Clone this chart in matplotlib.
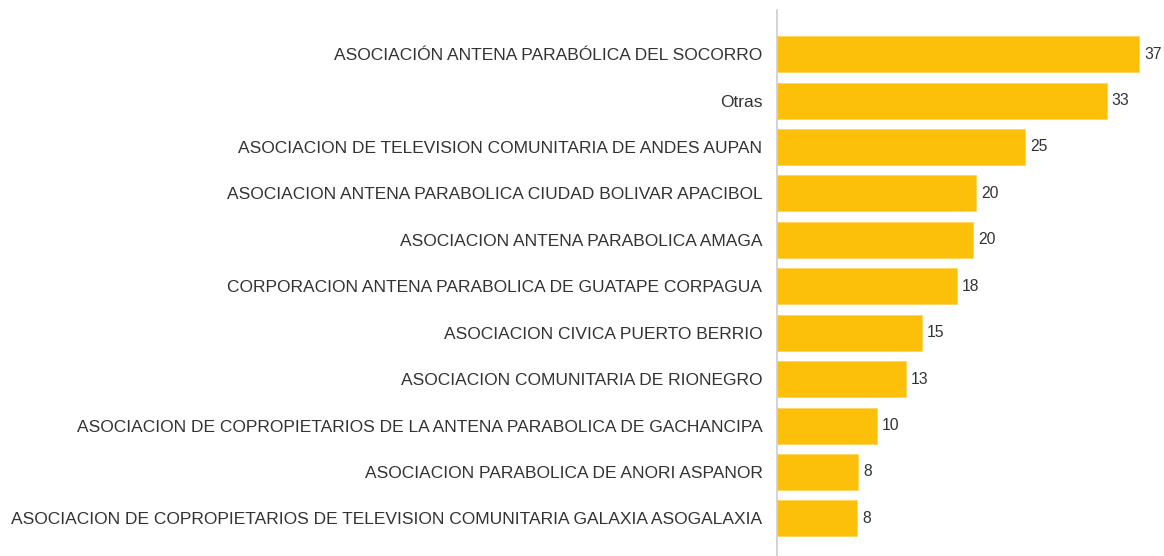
import matplotlib as mpl
mpl.use('agg')
import matplotlib.pyplot as plt

plt.rcParams['font.family'] = ['Liberation Sans', 'DejaVu Sans']

categories = [
    "ASOCIACIÓN ANTENA PARABÓLICA DEL SOCORRO",
    "Otras",
    "ASOCIACION DE TELEVISION COMUNITARIA DE ANDES AUPAN",
    "ASOCIACION ANTENA PARABOLICA CIUDAD BOLIVAR APACIBOL",
    "ASOCIACION ANTENA PARABOLICA AMAGA",
    "CORPORACION ANTENA PARABOLICA DE GUATAPE CORPAGUA",
    "ASOCIACION CIVICA PUERTO BERRIO",
    "ASOCIACION COMUNITARIA DE RIONEGRO",
    "ASOCIACION DE COPROPIETARIOS DE LA ANTENA PARABOLICA DE GACHANCIPA",
    "ASOCIACION PARABOLICA DE ANORI ASPANOR",
    "ASOCIACION DE COPROPIETARIOS DE TELEVISION COMUNITARIA GALAXIA ASOGALAXIA",
]
values = [36.6, 33.3, 25.1, 20.1, 19.8, 18.2, 14.6, 13.0, 10.1, 8.2, 8.1]

fig = plt.figure(figsize=(11.64, 5.56), dpi=100)
ax = fig.add_axes([777/1164, 0, 387/1164, 546/556])

ypos = list(range(len(values)))
ax.barh(ypos, values, height=0.775, color='#FCC00A', edgecolor='#FDD55E', linewidth=0.6)
for y, v in zip(ypos, values):
    ax.text(v + 0.5, y, "%.0f" % v, va='center', ha='left', fontsize=11.3, color='#333333')

ax.set_xlim(0, 39.1)
ax.set_ylim(10.81, -0.95)
ax.set_yticks(ypos)
ax.set_yticklabels(categories, fontsize=12.5, color='#333333')
ax.tick_params(axis='y', length=0, pad=10.5)
ax.set_xticks([])
for s in ['top', 'right', 'bottom']:
    ax.spines[s].set_visible(False)
ax.spines['left'].set_color('#CCCCCC')
ax.spines['left'].set_linewidth(1.2)

plt.savefig("out.png", dpi=100)
